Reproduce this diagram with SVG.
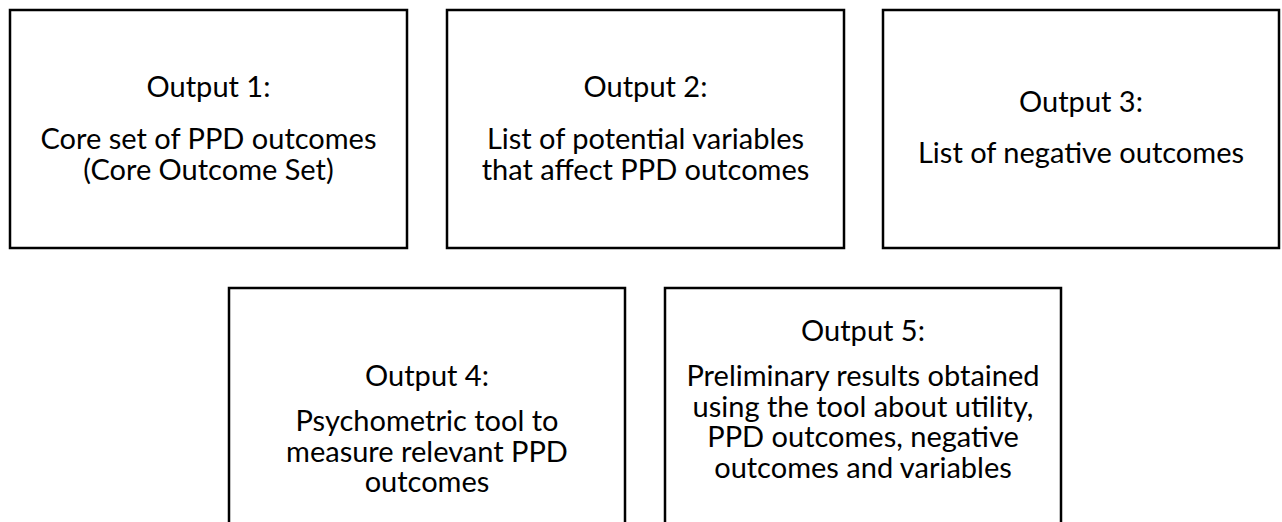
<svg xmlns="http://www.w3.org/2000/svg" width="1282" height="522" viewBox="0 0 1282 522">
  <style>
    .box { fill: #ffffff; stroke: #000000; stroke-width: 2.5; }
    .label { font-family: Lato, "Open Sans", "Liberation Sans", sans-serif; font-size: 29px; fill: #000000; text-anchor: middle; }
  </style>
  <rect x="0" y="0" width="1282" height="522" fill="#ffffff"/>

  <g id="output-1">
    <rect class="box" x="10" y="10" width="397" height="238"/>
    <text class="label" x="208.5" y="97">Output 1:</text>
    <text class="label" x="208.5" y="149">Core set of PPD outcomes</text>
    <text class="label" x="208.5" y="180">(Core Outcome Set)</text>
  </g>

  <g id="output-2">
    <rect class="box" x="447" y="10" width="397" height="238"/>
    <text class="label" x="645.5" y="97">Output 2:</text>
    <text class="label" x="645.5" y="149">List of potential variables</text>
    <text class="label" x="645.5" y="180">that affect PPD outcomes</text>
  </g>

  <g id="output-3">
    <rect class="box" x="883" y="10" width="396" height="238"/>
    <text class="label" x="1081" y="112">Output 3:</text>
    <text class="label" x="1081" y="163">List of negative outcomes</text>
  </g>

  <g id="output-4">
    <rect class="box" x="229" y="288" width="396" height="280"/>
    <text class="label" x="427" y="386">Output 4:</text>
    <text class="label" x="427" y="431">Psychometric tool to</text>
    <text class="label" x="427" y="461.5">measure relevant PPD</text>
    <text class="label" x="427" y="492">outcomes</text>
  </g>

  <g id="output-5">
    <rect class="box" x="665" y="288" width="396" height="280"/>
    <text class="label" x="863" y="341">Output 5:</text>
    <text class="label" x="863" y="386">Preliminary results obtained</text>
    <text class="label" x="863" y="416.5">using the tool about utility,</text>
    <text class="label" x="863" y="447">PPD outcomes, negative</text>
    <text class="label" x="863" y="477.5">outcomes and variables</text>
  </g>

  <g id="connectors"></g>
</svg>
